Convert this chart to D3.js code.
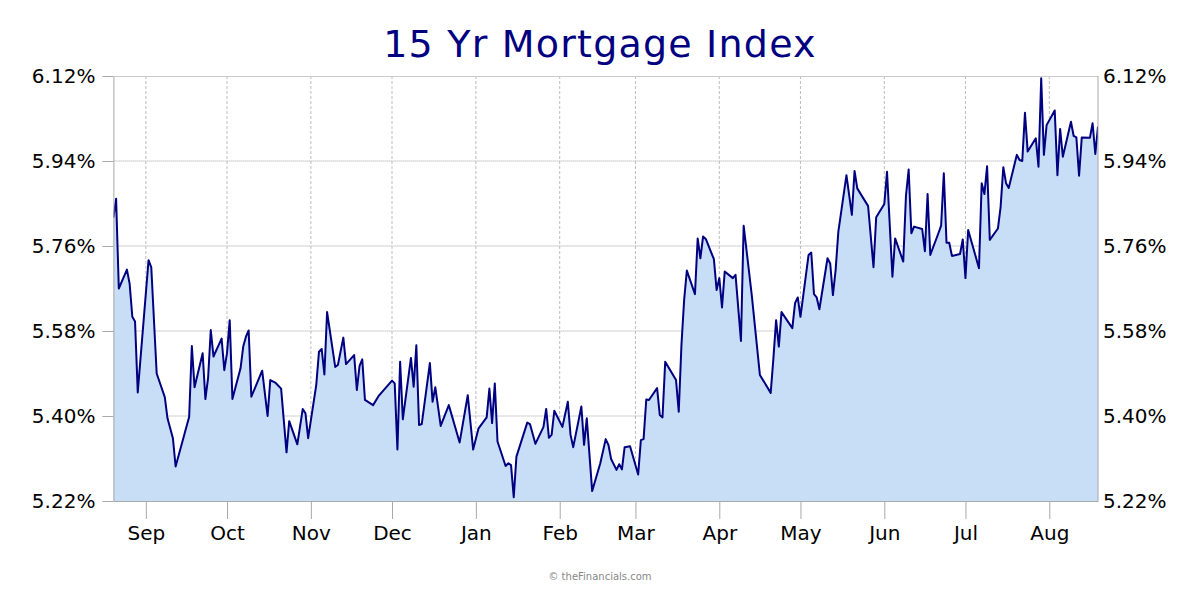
<!DOCTYPE html>
<html>
<head>
<meta charset="utf-8">
<script src="https://cdn.jsdelivr.net/npm/d3@7"></script>
<style>
  html, body { margin: 0; padding: 0; background: #fff; }
  svg { display: block; font-family: "DejaVu Sans", Verdana, sans-serif; }
</style>
</head>
<body>
<svg id="chart" width="1200" height="600"></svg>
<script>
// 15 yr mortgage index
const dates = [
  "2024-08-20","2024-08-21","2024-08-22","2024-08-25","2024-08-26","2024-08-27","2024-08-28","2024-08-29",
  "2024-09-02","2024-09-03","2024-09-05","2024-09-08","2024-09-09","2024-09-11","2024-09-12","2024-09-15",
  "2024-09-16","2024-09-17","2024-09-18","2024-09-19","2024-09-22","2024-09-23","2024-09-24","2024-09-25",
  "2024-09-26","2024-09-29","2024-09-30","2024-10-01","2024-10-02","2024-10-03","2024-10-06","2024-10-07",
  "2024-10-08","2024-10-09","2024-10-10","2024-10-14","2024-10-16","2024-10-17","2024-10-19","2024-10-21",
  "2024-10-23","2024-10-24","2024-10-27","2024-10-29","2024-10-30","2024-10-31","2024-11-03","2024-11-04",
  "2024-11-05","2024-11-06","2024-11-07","2024-11-10","2024-11-11","2024-11-13","2024-11-14","2024-11-17",
  "2024-11-18","2024-11-19","2024-11-20","2024-11-21","2024-11-24","2024-11-26","2024-12-01","2024-12-02",
  "2024-12-03","2024-12-04","2024-12-05","2024-12-08","2024-12-09","2024-12-10","2024-12-11","2024-12-12",
  "2024-12-15","2024-12-16","2024-12-17","2024-12-19","2024-12-22","2024-12-26","2024-12-29","2024-12-31",
  "2025-01-02","2025-01-05","2025-01-06","2025-01-07","2025-01-08","2025-01-09","2025-01-12","2025-01-13",
  "2025-01-14","2025-01-15","2025-01-16","2025-01-20","2025-01-21","2025-01-23","2025-01-26","2025-01-27",
  "2025-01-28","2025-01-29","2025-01-30","2025-02-02","2025-02-04","2025-02-05","2025-02-06","2025-02-09",
  "2025-02-10","2025-02-11","2025-02-13","2025-02-16","2025-02-18","2025-02-19","2025-02-20","2025-02-22",
  "2025-02-23","2025-02-24","2025-02-25","2025-02-27","2025-03-02","2025-03-03","2025-03-04","2025-03-05",
  "2025-03-06","2025-03-09","2025-03-10","2025-03-11","2025-03-12","2025-03-16","2025-03-17","2025-03-18",
  "2025-03-19","2025-03-20","2025-03-23","2025-03-24","2025-03-25","2025-03-26","2025-03-27","2025-03-30",
  "2025-03-31","2025-04-01","2025-04-02","2025-04-03","2025-04-06","2025-04-07","2025-04-09","2025-04-10",
  "2025-04-13","2025-04-16","2025-04-20","2025-04-21","2025-04-22","2025-04-23","2025-04-24","2025-04-28",
  "2025-04-29","2025-04-30","2025-05-01","2025-05-04","2025-05-05","2025-05-06","2025-05-07","2025-05-08",
  "2025-05-11","2025-05-12","2025-05-13","2025-05-14","2025-05-15","2025-05-18","2025-05-20","2025-05-21",
  "2025-05-22","2025-05-25","2025-05-26","2025-05-28","2025-05-29","2025-06-01","2025-06-02","2025-06-04",
  "2025-06-05","2025-06-08","2025-06-09","2025-06-10","2025-06-11","2025-06-12","2025-06-15","2025-06-16",
  "2025-06-17","2025-06-18","2025-06-21","2025-06-22","2025-06-23","2025-06-24","2025-06-25","2025-06-26",
  "2025-06-29","2025-06-30","2025-07-01","2025-07-02","2025-07-06","2025-07-07","2025-07-08","2025-07-09",
  "2025-07-10","2025-07-13","2025-07-14","2025-07-15","2025-07-16","2025-07-17","2025-07-20","2025-07-21",
  "2025-07-22","2025-07-23","2025-07-24","2025-07-27","2025-07-28","2025-07-29","2025-07-30","2025-07-31",
  "2025-08-03","2025-08-04","2025-08-05","2025-08-06","2025-08-09","2025-08-10","2025-08-11","2025-08-12",
  "2025-08-13","2025-08-16","2025-08-17","2025-08-18","2025-08-19"
];

const rates = [
  5.82, 5.86, 5.67, 5.71, 5.68, 5.61, 5.60, 5.45,
  5.73, 5.715, 5.49, 5.44, 5.395, 5.353, 5.293, 5.356,
  5.377, 5.398, 5.548, 5.461, 5.533, 5.436, 5.48, 5.582,
  5.526, 5.564, 5.497, 5.533, 5.603, 5.436, 5.501, 5.547,
  5.568, 5.581, 5.441, 5.496, 5.40, 5.476, 5.47, 5.458,
  5.323, 5.389, 5.34, 5.415, 5.406, 5.353, 5.466, 5.536,
  5.542, 5.488, 5.62, 5.504, 5.508, 5.566, 5.51, 5.529,
  5.455, 5.506, 5.52, 5.434, 5.423, 5.442, 5.475, 5.469,
  5.329, 5.515, 5.393, 5.523, 5.462, 5.55, 5.381, 5.383,
  5.512, 5.43, 5.461, 5.379, 5.423, 5.344, 5.444, 5.329,
  5.374, 5.397, 5.458, 5.385, 5.469, 5.346, 5.294, 5.30,
  5.296, 5.228, 5.314, 5.386, 5.383, 5.341, 5.377, 5.415,
  5.354, 5.36, 5.411, 5.377, 5.43, 5.36, 5.334, 5.42,
  5.339, 5.395, 5.241, 5.30, 5.351, 5.339, 5.309, 5.286,
  5.298, 5.287, 5.334, 5.336, 5.276, 5.349, 5.351, 5.435,
  5.434, 5.459, 5.402, 5.397, 5.515, 5.476, 5.409, 5.55,
  5.646, 5.708, 5.658, 5.776, 5.734, 5.78, 5.775, 5.732,
  5.667, 5.692, 5.63, 5.706, 5.692, 5.699, 5.559, 5.803,
  5.656, 5.487, 5.449, 5.522, 5.603, 5.547, 5.62, 5.586,
  5.639, 5.651, 5.61, 5.741, 5.746, 5.658, 5.651, 5.626,
  5.734, 5.723, 5.656, 5.709, 5.79, 5.91, 5.826, 5.919,
  5.882, 5.854, 5.845, 5.715, 5.821, 5.849, 5.917, 5.695,
  5.776, 5.727, 5.866, 5.922, 5.787, 5.801, 5.796, 5.749,
  5.87, 5.741, 5.787, 5.803, 5.914, 5.767, 5.767, 5.739,
  5.743, 5.774, 5.692, 5.794, 5.713, 5.893, 5.87, 5.929,
  5.773, 5.797, 5.843, 5.927, 5.893, 5.883, 5.953, 5.942,
  5.94, 6.042, 5.96, 5.988, 5.928, 6.115, 5.953, 6.016,
  6.047, 5.91, 6.008, 5.949, 6.023, 5.993, 5.99, 5.909,
  5.99, 5.989, 6.02, 5.955, 6.013
];

const yTicks = [5.22, 5.40, 5.58, 5.76, 5.94, 6.12];
const xStart = "2024-08-20", xEnd = "2025-08-19";
const title = "15 Yr Mortgage Index";
const credit = "\u00a9 theFinancials.com";

const parse = d3.timeParse("%Y-%m-%d");
const data = dates.map((d, i) => ({ date: parse(d), value: rates[i] }));

const svg = d3.select("#chart"),
  margin = { top: 76, right: 102, bottom: 99, left: 113.4 },
  width = +svg.attr("width"),
  height = +svg.attr("height"),
  plotW = width - margin.left - margin.right,
  plotH = height - margin.top - margin.bottom,
  gridColor = "#bdbdbd",
  axisColor = "#a9a9a9";

const x = d3.scaleTime().domain([parse(xStart), parse(xEnd)]).range([0, plotW]);
const y = d3.scaleLinear().domain([5.22, 6.12]).range([plotH, 0]);

svg.append("text")
  .attr("x", width / 2)
  .attr("y", 57)
  .attr("text-anchor", "middle")
  .attr("fill", "#000080")
  .style("font-size", "38px")
  .style("letter-spacing", "1.2px")
  .text(title);

const g = svg.append("g").attr("transform", "translate(" + margin.left + "," + margin.top + ")");

g.append("clipPath").attr("id", "plot-clip")
  .append("rect").attr("width", plotW).attr("height", plotH);

const months = x.ticks(d3.timeMonth.every(1));

// vertical dashed grid at month starts
g.append("g").selectAll("line")
  .data(months)
  .enter().append("line")
  .attr("x1", d => x(d)).attr("x2", d => x(d))
  .attr("y1", 0).attr("y2", plotH)
  .attr("stroke", gridColor)
  .attr("stroke-dasharray", "3,2");

// horizontal dotted grid
g.append("g").selectAll("line")
  .data(yTicks.slice(1, -1))
  .enter().append("line")
  .attr("x1", 0).attr("x2", plotW)
  .attr("y1", d => y(d)).attr("y2", d => y(d))
  .attr("stroke", "#a0a0a0")
  .attr("stroke-dasharray", "1,1");

const area = d3.area()
  .x(d => x(d.date))
  .y0(plotH)
  .y1(d => y(d.value));

const line = d3.line()
  .x(d => x(d.date))
  .y(d => y(d.value));

g.append("path")
  .datum(data)
  .attr("clip-path", "url(#plot-clip)")
  .attr("fill", "#c8def6")
  .attr("d", area);

g.append("path")
  .datum(data)
  .attr("clip-path", "url(#plot-clip)")
  .attr("fill", "none")
  .attr("stroke", "#000080")
  .attr("stroke-width", 2)
  .attr("stroke-linejoin", "round")
  .attr("d", line);

// frame
g.append("line").attr("x1", 0).attr("x2", plotW).attr("y1", 0.5).attr("y2", 0.5).attr("stroke", "#cccccc");
g.append("line").attr("x1", plotW).attr("x2", plotW).attr("y1", 0).attr("y2", plotH).attr("stroke", axisColor);

// left axis
const yLeft = g.append("g")
  .call(d3.axisLeft(y).tickValues(yTicks).tickSize(11).tickSizeOuter(0).tickPadding(7)
    .tickFormat(d => d.toFixed(2) + "%"));
// right axis (labels only)
const yRight = g.append("g")
  .attr("transform", "translate(" + plotW + ",0)")
  .call(d3.axisRight(y).tickValues(yTicks).tickSize(0).tickPadding(5).tickFormat(d => d.toFixed(2) + "%"));
// bottom axis
const xAxis = g.append("g")
  .attr("transform", "translate(0," + plotH + ")")
  .call(d3.axisBottom(x).tickValues(months).tickSize(18).tickSizeOuter(0).tickPadding(7)
    .tickFormat(d3.timeFormat("%b")));

[yLeft, yRight, xAxis].forEach(a => {
  a.select(".domain").attr("stroke", axisColor);
  a.selectAll(".tick line").attr("stroke", axisColor);
  a.selectAll(".tick text")
    .attr("fill", "#000")
    .style("font-family", "'DejaVu Sans', Verdana, sans-serif")
    .style("font-size", "20px");
});
yRight.select(".domain").remove();

svg.append("text")
  .attr("x", width / 2)
  .attr("y", 580)
  .attr("text-anchor", "middle")
  .attr("fill", "#888")
  .style("font-size", "10px")
  .text(credit);
</script>
</body>
</html>
